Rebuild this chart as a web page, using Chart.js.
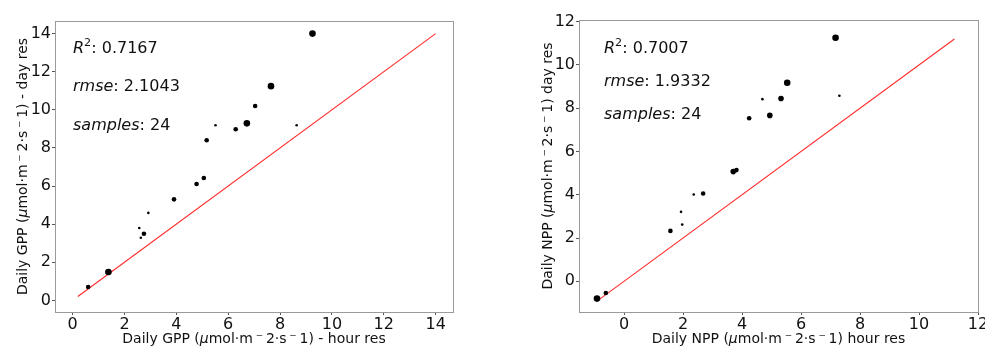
<!DOCTYPE html>
<html><head><meta charset="utf-8">
<script src="https://cdn.jsdelivr.net/npm/chart.js@4/dist/chart.umd.min.js"></script>
<style>
html,body{margin:0;padding:0;background:#fff;}
#wrap{position:relative;width:985px;height:350px;overflow:hidden;background:#fff;}
canvas{position:absolute;top:0;}
</style></head><body>
<div id="wrap">
<canvas id="gpp" width="470" height="350" style="left:0"></canvas>
<canvas id="npp" width="465" height="350" style="left:520px"></canvas>
</div>
<script>
// ---- GPP panel data ----
const gppHour   = [0.60, 1.38, 2.57, 2.63, 2.75, 2.92, 3.91, 4.78, 5.06, 5.17, 5.51, 6.29, 6.72, 7.04, 7.65, 8.64, 9.25];
const gppDay    = [0.70, 1.49, 3.80, 3.29, 3.50, 4.59, 5.30, 6.11, 6.42, 8.40, 9.19, 8.98, 9.29, 10.20, 11.24, 9.19, 14.00];
const gppWeight = [2, 3, 1, 1, 2, 1, 2, 2, 2, 2, 1, 2, 3, 2, 3, 1, 3];
const gppLine   = [0.2, 14.0];
const gppTicksX = [0, 2, 4, 6, 8, 10, 12, 14];
const gppTicksY = [0, 2, 4, 6, 8, 10, 12, 14];
const gppR2 = '0.7167', gppRmse = '2.1043', gppSamples = '24';

// ---- NPP panel data ----
const nppHour   = [-0.92, -0.62, 1.57, 1.93, 1.97, 2.36, 2.68, 3.70, 3.81, 4.24, 4.69, 4.94, 5.32, 5.53, 7.17, 7.30];
const nppDay    = [-0.80, -0.54, 2.33, 3.21, 2.62, 4.01, 4.06, 5.07, 5.14, 7.54, 8.42, 7.67, 8.45, 9.18, 11.26, 8.58];
const nppWeight = [3, 2, 2, 1, 1, 1, 2, 2.5, 2, 2, 1, 2.5, 2.5, 3, 3, 1];
const nppLine   = [-0.85, 11.2];
const nppTicksX = [0, 2, 4, 6, 8, 10, 12];
const nppTicksY = [0, 2, 4, 6, 8, 10, 12];
const nppR2 = '0.7007', nppRmse = '1.9332', nppSamples = '24';

const FAM = '"DejaVu Sans", sans-serif';

function drawRich(ctx, segs, x, y, align) {
  let total = 0;
  const ws = segs.map(s => {
    ctx.font = (s.italic ? 'italic ' : '') + s.size + 'px ' + FAM;
    const w = ctx.measureText(s.t).width; total += w; return w;
  });
  let cx = align === 'center' ? x - total / 2 : x;
  ctx.textAlign = 'left';
  ctx.textBaseline = 'alphabetic';
  segs.forEach((s, i) => {
    ctx.font = (s.italic ? 'italic ' : '') + s.size + 'px ' + FAM;
    ctx.fillText(s.t, cx, y - (s.rise || 0));
    cx += ws[i];
  });
}

function titleSegs(name, tail, size) {
  return [
    {t: 'Daily ' + name + ' (', size},
    {t: '\u03bc', italic: true, size},
    {t: 'mol\u00b7m\u2009\u207b\u20092\u00b7s\u2009\u207b\u20091) ' + tail, size}
  ];
}

const panelPlugin = {
  id: 'panel',
  afterDraw(chart) {
    const p = chart.options.plugins.panel;
    const ctx = chart.ctx, a = chart.chartArea;
    ctx.save();
    ctx.strokeStyle = '#9a9a9a';
    ctx.lineWidth = 1;
    ctx.strokeRect(Math.round(a.left) + 0.5, Math.round(a.top) + 0.5,
                   Math.round(a.right - a.left), Math.round(a.bottom - a.top));
    ctx.fillStyle = '#111';
    const fs = p.statSize;
    const tx = a.left + p.statX;
    drawRich(ctx, [{t: 'R', italic: true, size: fs}, {t: '2', size: fs * 0.7, rise: fs * 0.42}, {t: ': ' + p.r2, size: fs}], tx, p.statY[0]);
    drawRich(ctx, [{t: 'rmse', italic: true, size: fs}, {t: ': ' + p.rmse, size: fs}], tx, p.statY[1]);
    drawRich(ctx, [{t: 'samples', italic: true, size: fs}, {t: ': ' + p.samples, size: fs}], tx, p.statY[2]);
    const ts = 14;
    drawRich(ctx, titleSegs(p.name, p.xTail, ts), (a.left + a.right) / 2, p.xTitleY + ts * 0.36, 'center');
    ctx.save();
    ctx.translate(p.yTitleX, (a.top + a.bottom) / 2);
    ctx.rotate(-Math.PI / 2);
    drawRich(ctx, titleSegs(p.name, p.yTail, ts), 0, ts * 0.36, 'center');
    ctx.restore();
    ctx.restore();
  }
};

function makePanel(id, L) {
  const el = document.getElementById(id);
  const W = el.width, H = el.height;
  const pts = L.hx.map((v, i) => ({x: v, y: L.dy[i]}));
  const radii = L.w.map(w => 0.3 + 1.0 * w);
  const tickFont = {family: FAM, size: 16};
  return new Chart(el, {
    type: 'scatter',
    data: {
      datasets: [
        {
          data: [{x: L.line[0], y: L.line[0]}, {x: L.line[1], y: L.line[1]}],
          showLine: true, borderColor: '#ff2a2a', borderWidth: 1.1,
          pointRadius: 0, order: 2
        },
        {
          data: pts, backgroundColor: '#000', borderWidth: 0,
          pointRadius: radii, pointHoverRadius: radii, order: 1
        }
      ]
    },
    options: {
      responsive: false, animation: false, devicePixelRatio: 1,
      events: [],
      layout: {padding: {left: 0, top: L.top, right: W - L.right, bottom: 0}},
      plugins: {
        legend: {display: false}, tooltip: {enabled: false},
        panel: {
          name: L.name, xTail: L.xTail, yTail: L.yTail,
          r2: L.r2, rmse: L.rmse, samples: L.samples,
          statSize: 16, statX: L.statX, statY: L.statY,
          xTitleY: 338, yTitleX: L.yTitleX
        }
      },
      scales: {
        x: {
          type: 'linear', position: 'bottom', min: L.xr[0], max: L.xr[1],
          afterBuildTicks: s => { s.ticks = L.tx.map(v => ({value: v})); },
          afterFit: s => { s.height = H - L.bottom; s.paddingLeft = 0; s.paddingRight = 0; },
          grid: {display: true, drawOnChartArea: false, drawTicks: true, tickLength: 3, color: '#555'},
          border: {display: false},
          ticks: {font: tickFont, color: '#111', padding: 0, maxRotation: 0, autoSkip: false}
        },
        y: {
          type: 'linear', position: 'left', min: L.yr[0], max: L.yr[1],
          afterBuildTicks: s => { s.ticks = L.ty.map(v => ({value: v})); },
          afterFit: s => { s.width = L.left; s.paddingTop = 0; s.paddingBottom = 0; },
          grid: {display: true, drawOnChartArea: false, drawTicks: true, tickLength: 3, color: '#555'},
          border: {display: false},
          ticks: {font: tickFont, color: '#111', padding: 1, autoSkip: false}
        }
      }
    },
    plugins: [panelPlugin]
  });
}

makePanel('gpp', {
  hx: gppHour, dy: gppDay, w: gppWeight, line: gppLine, tx: gppTicksX, ty: gppTicksY,
  xr: [-0.68, 14.67], yr: [-0.61, 14.66],
  left: 55, right: 453, top: 21, bottom: 312,
  name: 'GPP', xTail: '- hour res', yTail: '- day res',
  r2: gppR2, rmse: gppRmse, samples: gppSamples,
  statX: 18, statY: [53, 91, 129.5], yTitleX: 21.7
});
makePanel('npp', {
  hx: nppHour, dy: nppDay, w: nppWeight, line: nppLine, tx: nppTicksX, ty: nppTicksY,
  xr: [-1.53, 12.0], yr: [-1.42, 12.08],
  left: 59, right: 458, top: 20, bottom: 312,
  name: 'NPP', xTail: 'hour res', yTail: 'day res',
  r2: nppR2, rmse: nppRmse, samples: nppSamples,
  statX: 25, statY: [53, 86, 118.5], yTitleX: 26.5
});
</script>
</body></html>
